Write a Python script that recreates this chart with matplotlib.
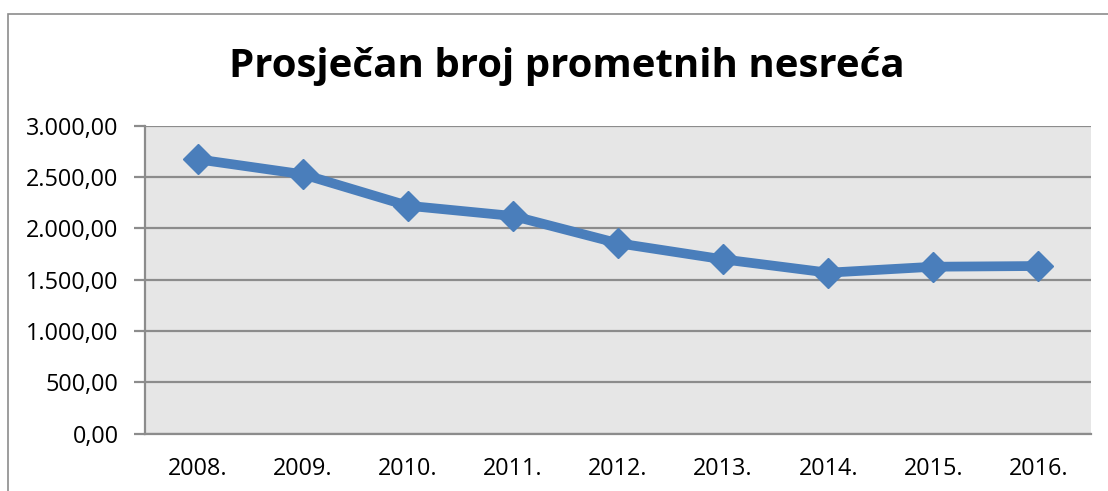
import matplotlib.pyplot as plt
from matplotlib.ticker import FuncFormatter
from matplotlib.patches import Rectangle

years = ["2008.", "2009.", "2010.", "2011.", "2012.", "2013.", "2014.", "2015.", "2016."]
avg_accidents = [2675, 2529, 2222, 2122, 1856, 1699, 1569, 1627, 1634]
title = "Prosječan broj prometnih nesreća"

plt.rcParams['font.family'] = ['Open Sans', 'DejaVu Sans']

fig = plt.figure(figsize=(11.08, 4.91), dpi=100)
ax = fig.add_axes([0.1309, 0.1171, 0.8538, 0.6263])

# outer chart border (Excel-style frame)
fig.patches.append(Rectangle((8 / 1108, -0.05), 1.2, (491 - 14) / 491 + 0.05,
                             transform=fig.transFigure, fill=False,
                             edgecolor="#8c8c8c", linewidth=1.2))

x = range(len(years))
ax.plot(x, avg_accidents, color="#4a7ebb", linewidth=7, marker="D",
        markersize=15, zorder=3, solid_joinstyle="miter")

ax.set_facecolor("#e6e6e6")
ax.set_xlim(-0.5, len(years) - 0.5)
ax.set_ylim(0, 3000)
ax.set_yticks(range(0, 3001, 500))

def fmt(v, pos):
    return f"{v:,.2f}".replace(",", "X").replace(".", ",").replace("X", ".")

ax.yaxis.set_major_formatter(FuncFormatter(fmt))
ax.set_xticks(list(x))
ax.set_xticklabels(years)
ax.grid(axis="y", color="#8c8c8c", linewidth=1.6)
ax.set_axisbelow(True)

for side in ["top", "right"]:
    ax.spines[side].set_visible(False)
ax.spines["left"].set_color("#8c8c8c")
ax.spines["bottom"].set_color("#8c8c8c")
ax.spines["left"].set_linewidth(1.6)
ax.spines["bottom"].set_linewidth(1.6)

ax.tick_params(axis="y", length=8, width=1.6, color="#8c8c8c", labelsize=16.8, pad=11)
ax.tick_params(axis="x", length=0, labelsize=16.8, pad=17)

fig.text(567 / 1108, 1 - 66 / 491, title, ha="center", va="center",
         fontsize=29, fontweight="bold")

fig.savefig("out.png", dpi=100)
